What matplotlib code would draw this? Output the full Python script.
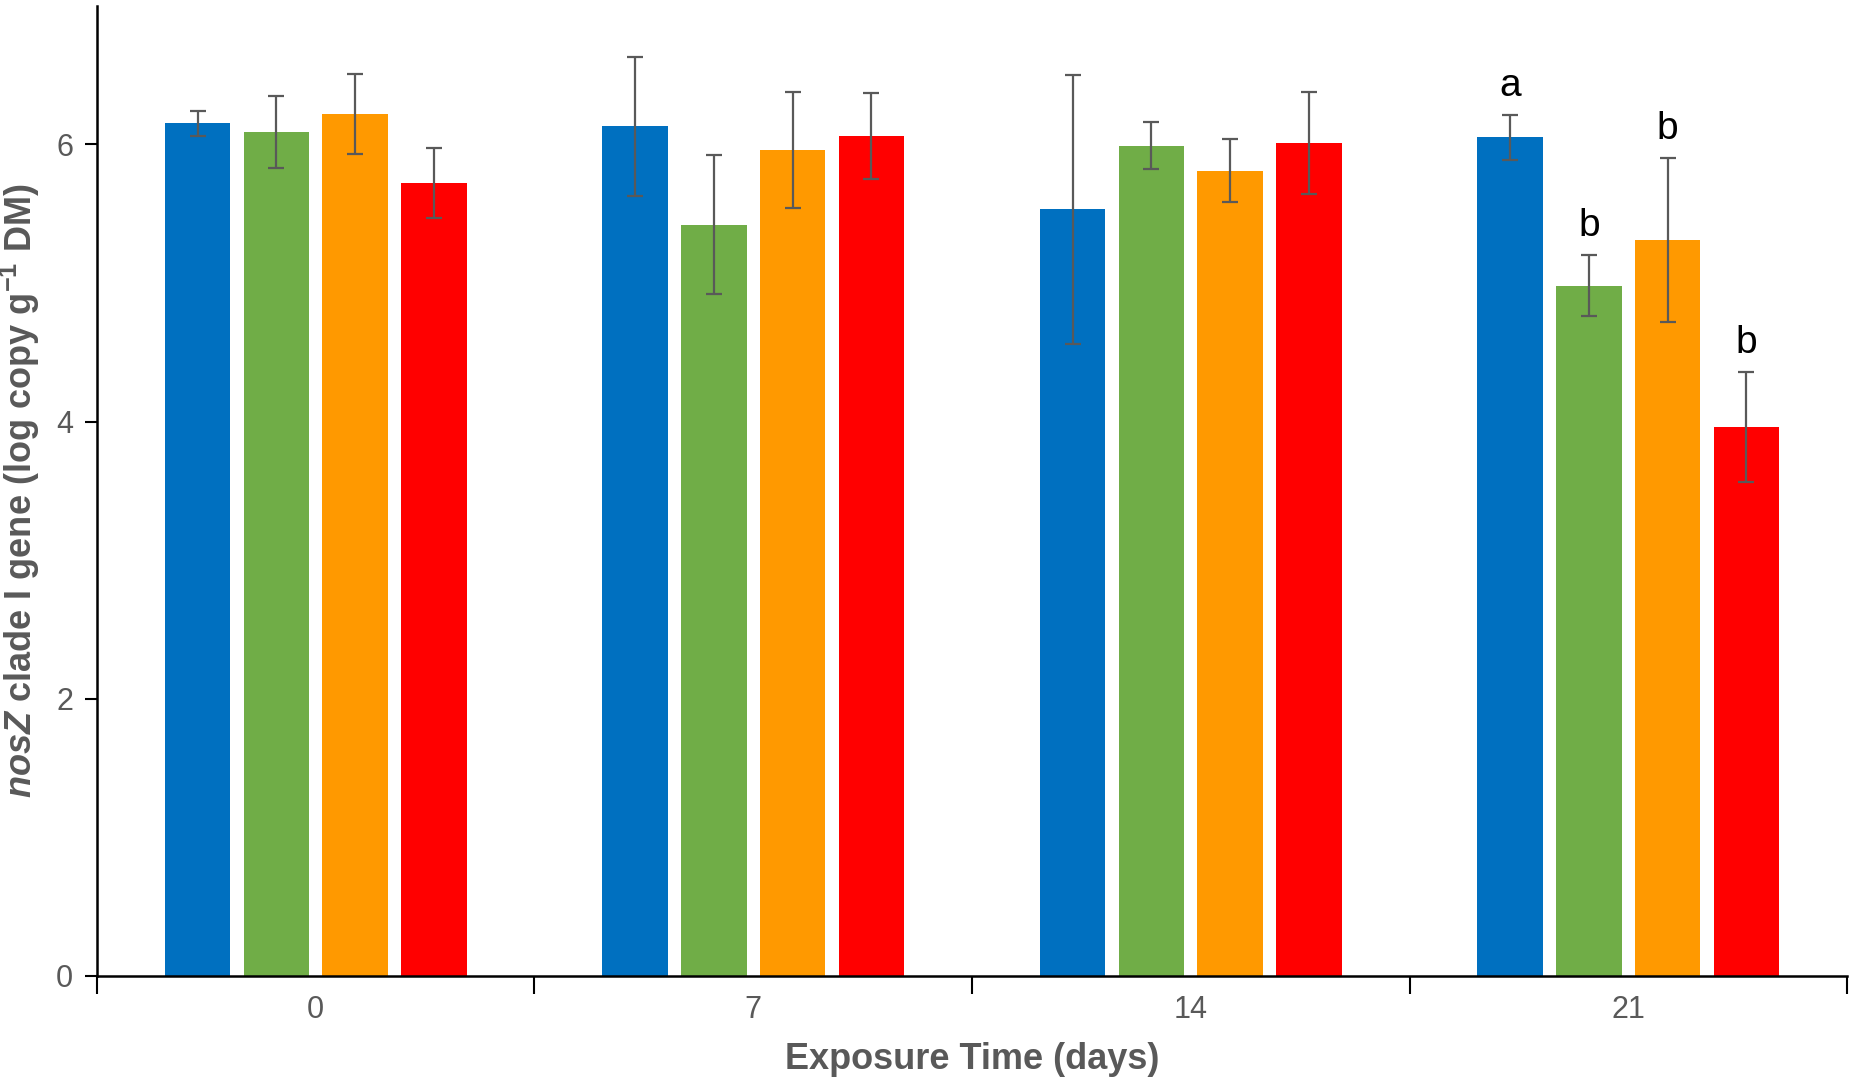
import matplotlib
matplotlib.use('Agg')
import matplotlib.pyplot as plt
import numpy as np

days = ['0', '7', '14', '21']

# mean and error per treatment, one value per exposure day
blue_mean = [6.15, 6.13, 5.53, 6.05]
blue_err = [0.09, 0.50, 0.97, 0.16]
green_mean = [6.09, 5.42, 5.99, 4.98]
green_err = [0.26, 0.50, 0.17, 0.22]
orange_mean = [6.22, 5.96, 5.81, 5.31]
orange_err = [0.29, 0.42, 0.23, 0.59]
red_mean = [5.72, 6.06, 6.01, 3.96]
red_err = [0.25, 0.31, 0.37, 0.40]

# significance letters on day 21
letters_21 = ['a', 'b', 'b', 'b']

series = [
    (blue_mean, blue_err, '#0070C0'),
    (green_mean, green_err, '#70AD47'),
    (orange_mean, orange_err, '#FF9900'),
    (red_mean, red_err, '#FF0000'),
]
offsets = [-0.27, -0.09, 0.09, 0.27]
width = 0.15

gray = '#595959'
narrow = ['Liberation Sans Narrow', 'Liberation Sans', 'DejaVu Sans']

plt.rcParams['mathtext.fontset'] = 'custom'
plt.rcParams['mathtext.rm'] = 'Liberation Sans:bold'
plt.rcParams['mathtext.it'] = 'Liberation Sans:italic:bold'
plt.rcParams['mathtext.bf'] = 'Liberation Sans:bold'

fig = plt.figure(figsize=(18.5, 10.83), dpi=100)
ax = fig.add_axes([0.0524, 0.0988, 0.946, 0.896])

x = np.arange(len(days))
for (mean, err, col), off in zip(series, offsets):
    ax.bar(x + off, mean, width=width, color=col, zorder=2)
    ax.errorbar(x + off, mean, yerr=err, fmt='none', ecolor=gray,
                elinewidth=1.6, capsize=6, capthick=1.6, zorder=3)

# letters above day 21 bars
for (mean, err, col), off, lab in zip(series, offsets, letters_21):
    ax.text(3 + off, mean[3] + err[3] + 0.08, lab, ha='center', va='bottom',
            fontsize=28, color='black', family=['Liberation Sans', 'DejaVu Sans'])

ax.set_xlim(-0.5, 3.5)
ax.set_ylim(0, 7)
ax.set_yticks([0, 2, 4, 6])
ax.set_xticks(x)
ax.set_xticklabels(days)
ax.set_xticks(np.arange(-0.5, 3.6, 1), minor=True)
ax.tick_params(axis='x', which='major', length=0, pad=14, labelsize=22,
               labelcolor=gray)
ax.tick_params(axis='x', which='minor', length=13, width=1.5, direction='out')
ax.tick_params(axis='y', length=9, width=1.5, labelsize=22, labelcolor=gray,
               pad=8)
for lab in ax.get_xticklabels() + ax.get_yticklabels():
    lab.set_family(narrow)
    lab.set_stretch('condensed')

for s in ['top', 'right']:
    ax.spines[s].set_visible(False)
ax.spines['left'].set_linewidth(1.8)
ax.spines['bottom'].set_linewidth(1.8)

ax.set_xlabel('Exposure Time (days)', fontsize=26, fontweight='bold',
              color=gray, family=narrow, stretch='condensed', labelpad=12)
ax.set_ylabel(r'$\mathit{nosZ}$ clade I gene (log copy g$^{\mathrm{-1}}$ DM)',
              fontsize=26, fontweight='bold', color=gray,
              family=['Liberation Sans', 'DejaVu Sans'], labelpad=10)

plt.savefig('out.png', dpi=100)
